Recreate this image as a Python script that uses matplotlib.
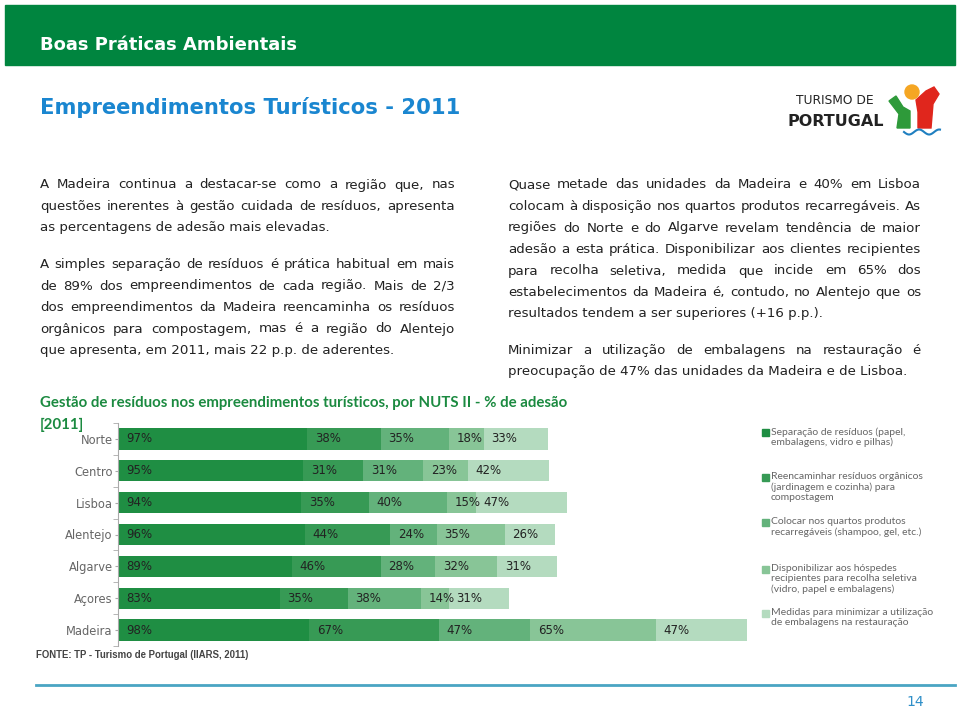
import matplotlib
matplotlib.use('Agg')
import matplotlib.pyplot as plt
import numpy as np
from matplotlib.patches import Rectangle, Circle, Polygon

regions = ['Norte', 'Centro', 'Lisboa', 'Alentejo', 'Algarve', 'Açores', 'Madeira']
separacao = [97, 95, 94, 96, 89, 83, 98]
compostagem = [38, 31, 35, 44, 46, 35, 67]
recarregaveis = [35, 31, 40, 24, 28, 38, 47]
recipientes = [18, 23, 15, 35, 32, 14, 65]
embalagens = [33, 42, 47, 26, 31, 31, 47]

series = [separacao, compostagem, recarregaveis, recipientes, embalagens]
series_labels = [
    'Separação de resíduos (papel,\nembalagens, vidro e pilhas)',
    'Reencaminhar resíduos orgânicos\n(jardinagem e cozinha) para\ncompostagem',
    'Colocar nos quartos produtos\nrecarregáveis (shampoo, gel, etc.)',
    'Disponibilizar aos hóspedes\nrecipientes para recolha seletiva\n(vidro, papel e embalagens)',
    'Medidas para minimizar a utilização\nde embalagens na restauração',
]
colors = ['#1f8e43', '#379a55', '#63b27b', '#88c597', '#b4dbbf']
legend_y = [433, 478, 523, 570, 614]

left_text = [
    ['A Madeira continua a destacar-se como a região que, nas',
     'questões inerentes à gestão cuidada de resíduos, apresenta',
     'as percentagens de adesão mais elevadas.'],
    ['A simples separação de resíduos é prática habitual em mais',
     'de 89% dos empreendimentos de cada região. Mais de 2/3',
     'dos empreendimentos da Madeira reencaminha os resíduos',
     'orgânicos para compostagem, mas é a região do Alentejo',
     'que apresenta, em 2011, mais 22 p.p. de aderentes.'],
]
right_text = [
    ['Quase metade das unidades da Madeira e 40% em Lisboa',
     'colocam à disposição nos quartos produtos recarregáveis. As',
     'regiões do Norte e do Algarve revelam tendência de maior',
     'adesão a esta prática. Disponibilizar aos clientes recipientes',
     'para recolha seletiva, medida que incide em 65% dos',
     'estabelecimentos da Madeira é, contudo, no Alentejo que os',
     'resultados tendem a ser superiores (+16 p.p.).'],
    ['Minimizar a utilização de embalagens na restauração  é',
     'preocupação de 47% das unidades da Madeira e de Lisboa.'],
]


def justify(ax, paragraphs, x0, x1, y0, dy, gap, **kw):
    r = ax.figure.canvas.get_renderer()
    y = y0
    for para in paragraphs:
        for i, line in enumerate(para):
            words = line.split()
            if i == len(para) - 1 or len(words) == 1:
                ax.text(x0, y, line, **kw)
            else:
                ts = [ax.text(x0, y, w, **kw) for w in words]
                ws = [t.get_window_extent(r).width for t in ts]
                sp = (x1 - x0 - sum(ws)) / (len(words) - 1)
                x = x0
                for t, w in zip(ts, ws):
                    t.set_x(x)
                    x += w + sp
            y += dy
        y += gap


fig = plt.figure(figsize=(9.6, 7.11), dpi=100)

# page layer in pixel coordinates
bg = fig.add_axes([0, 0, 1, 1])
bg.set_xlim(0, 960)
bg.set_ylim(711, 0)
bg.axis('off')

bg.add_patch(Rectangle((5, 5), 950, 60, color='#00853f'))
bg.text(40, 45, 'Boas Práticas Ambientais', color='white', fontsize=13,
        fontweight='bold', va='center')
bg.text(40, 107, 'Empreendimentos Turísticos - 2011', color='#1a86d0',
        fontsize=15.2, fontweight='bold', va='center')

# logo
bg.text(835, 100, 'TURISMO DE', fontsize=8.8, color='#222', ha='center', va='center')
bg.text(836, 121, 'PORTUGAL', fontsize=11.5, fontweight='bold', color='#222',
        ha='center', va='center')
bg.add_patch(Polygon([(889, 101), (896, 96), (903, 107), (910, 111), (910, 128),
                      (897, 128), (899, 114)], color='#2e9a3a'))
bg.add_patch(Polygon([(916, 100), (926, 91), (934, 87), (939, 94), (933, 104),
                      (931, 128), (918, 128), (918, 112)], color='#e0261d'))
bg.add_patch(Circle((912, 92), 7, color='#f5a623'))
wx = np.linspace(904, 940, 60)
bg.plot(wx, 132 + 2.5 * np.sin((wx - 904) / 3.2), color='#1f7fc0', lw=1.5)

justify(bg, left_text, 40, 455, 185, 21.5, 15, fontsize=9.6, color='#222', va='center')
justify(bg, right_text, 508, 921, 185, 21.5, 15, fontsize=9.6, color='#222', va='center')

bg.text(40, 403, 'Gestão de resíduos nos empreendimentos turísticos, por NUTS II - % de adesão',
        color='#1b8a40', fontsize=10.8, fontweight='bold', va='center', family='Lato')
bg.text(40, 425, '[2011]', color='#1b8a40', fontsize=10.8, fontweight='bold', va='center',
        family='Lato')

# legend
for c, lab, y in zip(colors, series_labels, legend_y):
    bg.add_patch(Rectangle((762, y - 4), 7, 7, color=c))
    bg.text(771, y - 6, lab, fontsize=7.5, color='#666', va='top', family='Lato',
            linespacing=1.15)

bg.text(36, 655, 'FONTE: TP - Turismo de Portugal (IIARS, 2011)', fontsize=6.9,
        fontweight='bold', color='#444', va='center', family='Liberation Sans')
bg.plot([36, 955], [685, 685], color='#4aa5c3', lw=2)
bg.text(915, 702, '14', fontsize=10, color='#2f8fc8', ha='center', va='center')

# chart
ax = fig.add_axes([119 / 960, 1 - 646 / 711, 636 / 960, 223 / 711])
y = np.arange(len(regions))
left = np.zeros(len(regions))
for vals, c in zip(series, colors):
    ax.barh(y, vals, left=left, height=0.67, color=c)
    for yi, (l, v) in enumerate(zip(left, vals)):
        ax.annotate('%d%%' % v, (l, yi), xytext=(5.5, 0), textcoords='offset points',
                    va='center', fontsize=8.5, color='#222')
    left = left + np.array(vals)

ax.set_xlim(0, 328)
ax.set_ylim(len(regions) - 0.5, -0.5)
ax.set_yticks(y)
ax.set_yticklabels(regions)
ax.set_yticks(np.arange(-0.5, len(regions)), minor=True)
ax.tick_params(axis='y', which='major', length=2.5, color='#aaa', pad=1,
               labelsize=8.3, labelcolor='#666')
ax.tick_params(axis='y', which='minor', length=3.5, color='#aaa')
ax.set_xticks([])
for s in ['top', 'right', 'bottom']:
    ax.spines[s].set_visible(False)
ax.spines['left'].set_color('#aaa')
ax.spines['left'].set_position(('outward', 1))
ax.patch.set_alpha(0)

fig.savefig('out.png', dpi=100)
